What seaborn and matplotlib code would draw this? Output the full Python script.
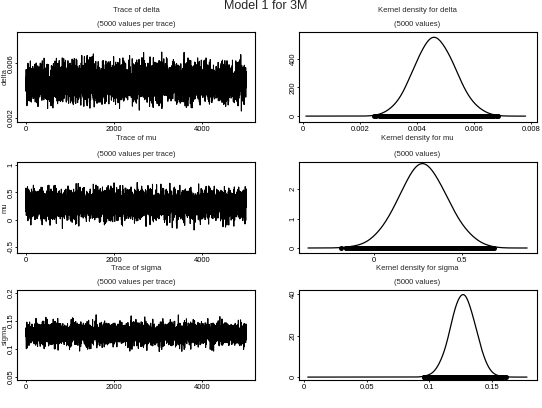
import numpy as np
import pandas as pd
import matplotlib
matplotlib.use("Agg")
import matplotlib.pyplot as plt
import seaborn as sns

# posterior summaries (mean, sd, min, max of the chains)
params = ["delta", "mu", "sigma"]
post_mean = [0.00463, 0.278, 0.127]
post_sd = [0.00069, 0.134, 0.0095]
post_min = [0.0025, -0.20, 0.095]
post_max = [0.0071, 0.70, 0.165]
n_iter = 5000

# tick labels shown in the reference
trace_xticks = [0, 2000, 4000]
trace_yticks = [[0.002, 0.006], [-0.5, 0, 0.5, 1], [0.05, 0.1, 0.15, 0.2]]
trace_ylim = [(0.0017, 0.0083), (-0.61, 1.055), (0.045, 0.205)]
dens_xticks = [[0, 0.002, 0.004, 0.006, 0.008], [0, 0.5], [0, 0.05, 0.1, 0.15]]
dens_xticklabels = [["0", "0.002", "0.004", "0.006", "0.008"], ["0", "0.5"], ["0", "0.05", "0.1", "0.15"]]
dens_yticks = [[0, 200, 400], [0, 1, 2], [0, 20, 40]]
dens_xlim = [(-0.00014, 0.0082), (-0.426, 0.926), (-0.004, 0.186)]
dens_ylim = [(-41, 586), (-0.17, 2.92), (-1.4, 41.9)]
dens_clip = [(0.0001, 0.0078), (-0.375, 0.87), (0.003, 0.178)]

# MCMC chains (seeded draws matching the summaries above, kept within the
# observed min/max)
rng = np.random.default_rng(7)
cols = {}
for p, m, s, lo, hi in zip(params, post_mean, post_sd, post_min, post_max):
    d = rng.normal(m, s, n_iter * 2)
    d = d[(d >= lo) & (d <= hi)][:n_iter]
    cols[p] = d
chains = pd.DataFrame(cols)
chains["iter"] = np.arange(1, n_iter + 1)

sns.set_theme(style="white")
plt.rcParams["font.family"] = ["Liberation Sans", "DejaVu Sans"]
FS = 5.5

W, H = 542, 408
fig = plt.figure(figsize=(W / 100, H / 100), dpi=100)

def px(x, y):
    return x / W, 1 - y / H

rows = [(32, 122), (162, 253), (290, 380)]
title_y = [(10, 25), (138, 154), (268, 282)]

fig.text(*px(266, 6), "Model 1 for 3M", ha="center", va="center", fontsize=9)

def style(ax):
    for s in ax.spines.values():
        s.set_color("black")
        s.set_linewidth(0.8)
        s.set_visible(True)
    ax.tick_params(axis="both", direction="out", length=1.5, width=0.6,
                   labelsize=FS, pad=1.5, colors="black", bottom=True, left=True)
    ax.tick_params(axis="y", labelrotation=90, pad=0.3, length=1.2)
    for lab in ax.get_yticklabels():
        lab.set_va("center")

for i, p in enumerate(params):
    top, bot = rows[i]
    l0, b0 = px(17, bot)
    r0, _ = px(255, bot)
    axl = fig.add_axes([l0, b0, r0 - l0, (bot - top) / H])
    sns.lineplot(data=chains, x="iter", y=p, color="black", linewidth=0.75,
                 estimator=None, sort=False, ax=axl)
    axl.set_xlim(-199, 5200)
    axl.set_ylim(*trace_ylim[i])
    axl.set_xticks(trace_xticks)
    axl.set_yticks(trace_yticks[i])
    axl.set_yticklabels([f"{v:g}" for v in trace_yticks[i]])
    axl.set_xlabel("")
    axl.set_ylabel(p, fontsize=FS)
    axl.yaxis.set_label_coords((9 - 17) / 238, 0.5)
    style(axl)

    l1, _ = px(299, bot)
    r1, _ = px(537, bot)
    axr = fig.add_axes([l1, b0, r1 - l1, (bot - top) / H])
    sns.kdeplot(x=chains[p], color="black", linewidth=0.9, cut=100, bw_adjust=2,
                clip=dens_clip[i], gridsize=600, ax=axr)
    sns.scatterplot(x=chains[p], y=np.zeros(n_iter), color="black", s=13,
                    linewidth=0, ax=axr, zorder=3)
    axr.set_xlim(*dens_xlim[i])
    axr.set_ylim(*dens_ylim[i])
    axr.set_xticks(dens_xticks[i])
    axr.set_xticklabels(dens_xticklabels[i])
    axr.set_yticks(dens_yticks[i])
    axr.set_yticklabels([str(v) for v in dens_yticks[i]])
    axr.set_xlabel("")
    axr.set_ylabel("")
    style(axr)

    t1, t2 = title_y[i]
    fig.text(*px(136, t1), f"Trace of {p}", ha="center", va="center", fontsize=FS)
    fig.text(*px(136, t2), "(5000 values per trace)", ha="center", va="center", fontsize=FS)
    fig.text(*px(417, t1), f"Kernel density for {p}", ha="center", va="center", fontsize=FS)
    fig.text(*px(417, t2), "(5000 values)", ha="center", va="center", fontsize=FS)

fig.savefig("out.png", dpi=100)
